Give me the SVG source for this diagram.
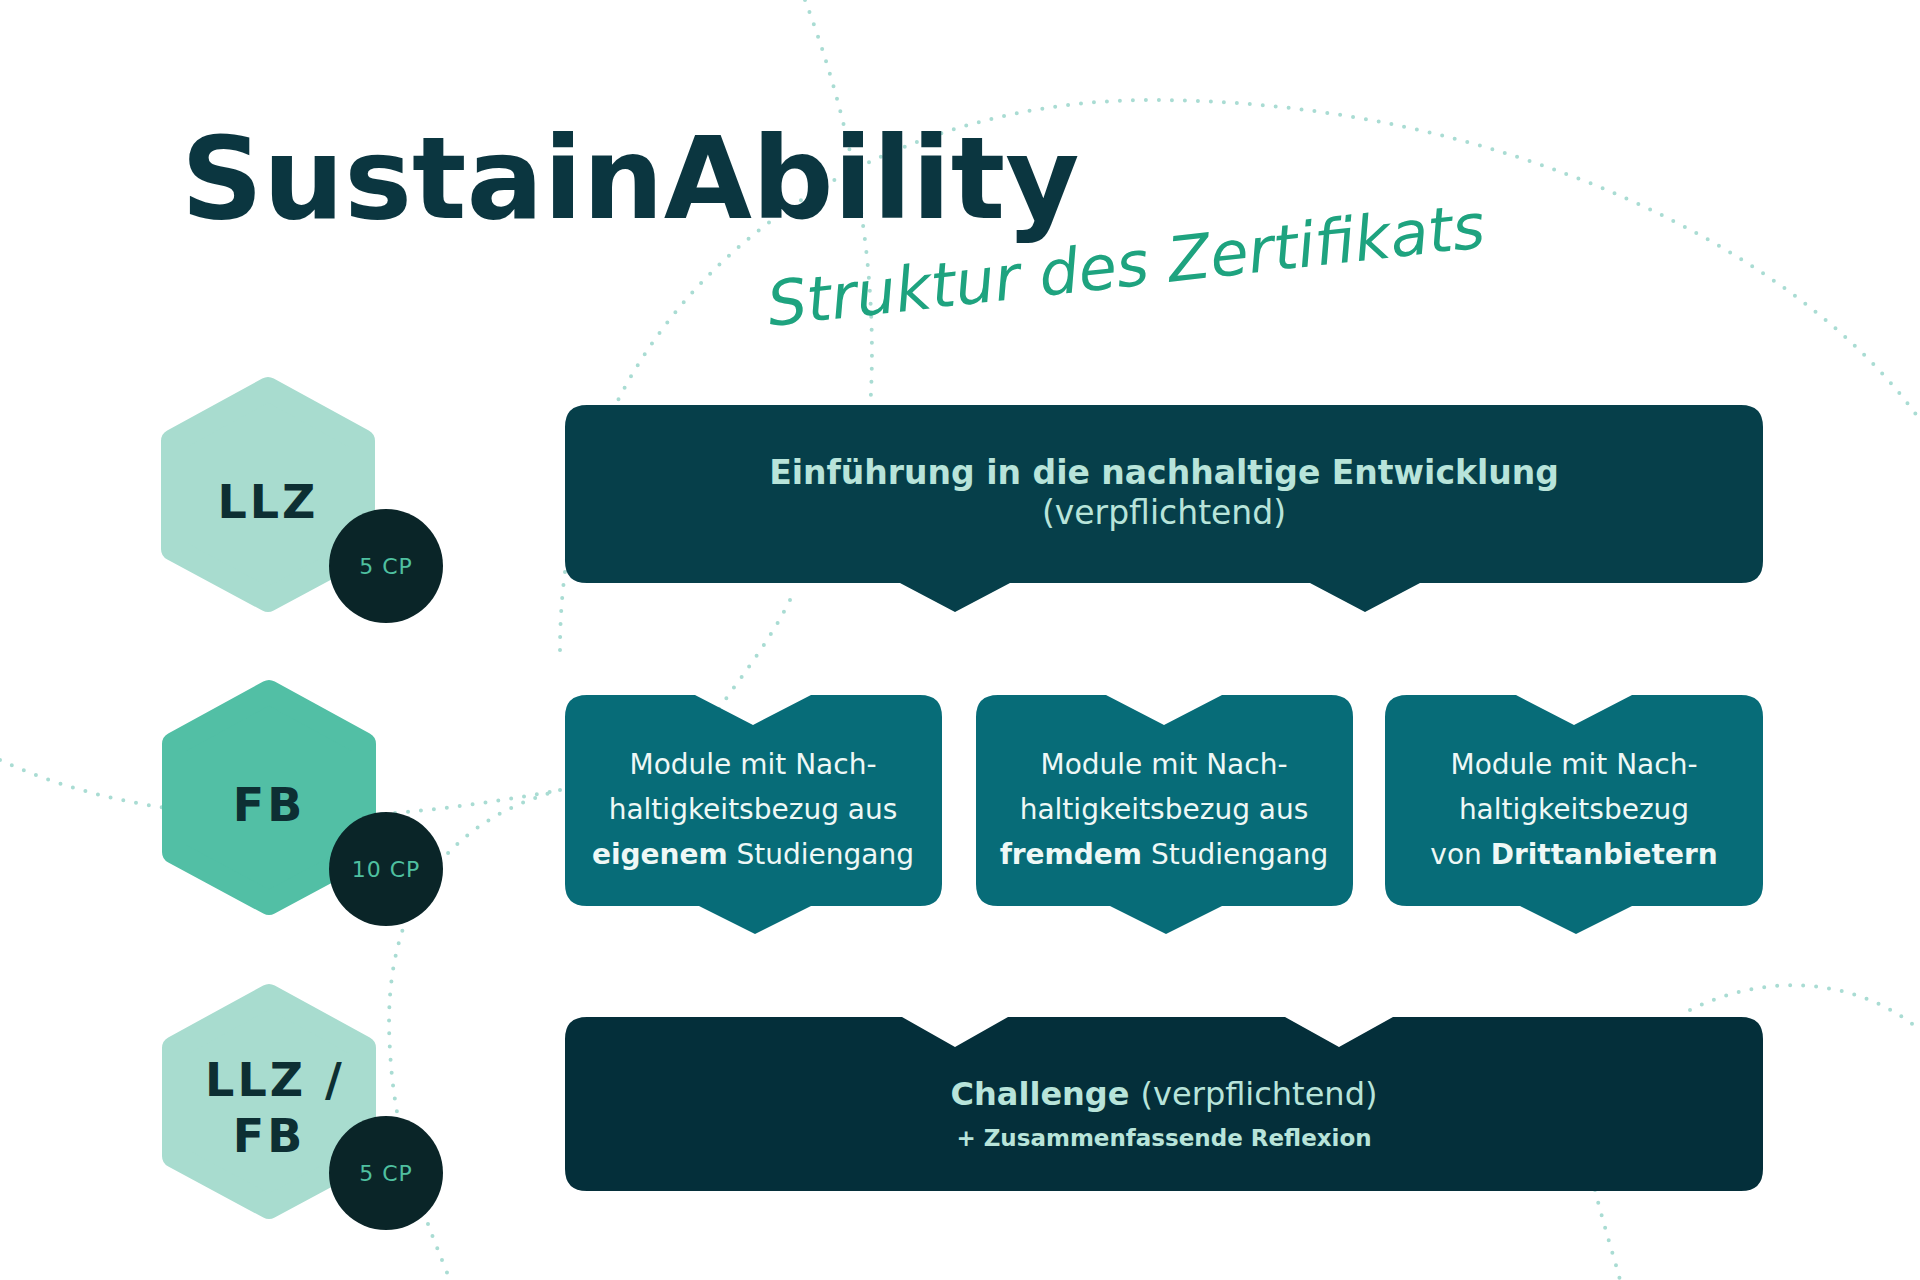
<svg xmlns="http://www.w3.org/2000/svg" width="1920" height="1280" viewBox="0 0 1920 1280">
<style>
.dot{fill:none;stroke:#a9dcd3;stroke-width:4;stroke-linecap:round;stroke-dasharray:0 13}
.hexl{fill:#a8dccf;stroke:#a8dccf;stroke-width:24;stroke-linejoin:round}
.hexm{fill:#52bfa5;stroke:#52bfa5;stroke-width:24;stroke-linejoin:round}
.cp{fill:#0a2528}
.cpt{font-family:"DejaVu Sans",sans-serif;font-size:22px;fill:#4fc0a0;text-anchor:middle;letter-spacing:1px}
.hext{font-family:"DejaVu Sans",sans-serif;font-size:46px;font-weight:bold;fill:#0d2f33;text-anchor:middle;letter-spacing:3px}
.bt{font-family:"DejaVu Sans",sans-serif;text-anchor:middle}
.mt{font-family:"DejaVu Sans",sans-serif;font-size:28px;fill:#eef8f6;text-anchor:middle}
</style>
<rect width="1920" height="1280" fill="#fff"/>
<g id="background">
<path class="dot" d="M560,650 C560,300 850,100 1150,100 C1500,100 1800,250 1920,420"/>
<path class="dot" d="M805,0 C850,120 880,260 870,410"/>
<path class="dot" d="M0,760 C150,830 350,830 560,790"/>
<path class="dot" d="M560,790 C450,820 380,900 390,1050 C395,1150 430,1230 450,1280"/>
<path class="dot" d="M790,600 C760,660 720,700 700,740"/>
<path class="dot" d="M1690,1010 C1770,970 1860,980 1920,1030"/>
<path class="dot" d="M1595,1190 C1605,1230 1615,1260 1620,1280"/>
</g>
<g id="title">
<text x="181" y="218" font-family="'DejaVu Sans',sans-serif" font-weight="bold" font-size="114" fill="#0b3640">SustainAbility</text>
<text transform="translate(770,326) rotate(-6.3)" font-family="'DejaVu Sans',sans-serif" font-style="italic" font-size="62" fill="#1ea37f">Struktur des Zertifikats</text>
</g>
<g id="hex-llz">
<polygon class="hexl" points="268,389 363,441 363,549 268,600 173,549 173,441"/>
<text class="hext" x="268" y="518">LLZ</text>
<circle class="cp" cx="386" cy="566" r="57"/>
<text class="cpt" x="386" y="574">5 CP</text>
</g>
<g id="hex-fb">
<polygon class="hexm" points="269,692 364,744 364,852 269,903 174,852 174,744"/>
<text class="hext" x="269" y="821">FB</text>
<circle class="cp" cx="386" cy="869" r="57"/>
<text class="cpt" x="386" y="877">10 CP</text>
</g>
<g id="hex-llzfb">
<polygon class="hexl" points="269,996 364,1048 364,1156 269,1207 174,1156 174,1048"/>
<text class="hext" x="275" y="1096">LLZ /</text>
<text class="hext" x="269" y="1152">FB</text>
<circle class="cp" cx="386" cy="1173" r="57"/>
<text class="cpt" x="386" y="1181">5 CP</text>
</g>
<g id="box-einfuehrung">
<path fill="#063f4a" d="M587,405 H1741 Q1763,405 1763,427 V561 Q1763,583 1741,583 H1420 L1365,612 L1310,583 H1010 L955,612 L900,583 H587 Q565,583 565,561 V427 Q565,405 587,405 Z"/>
<text class="bt" x="1164" y="484" font-size="33" font-weight="bold" fill="#b8e4da">Einführung in die nachhaltige Entwicklung</text>
<text class="bt" x="1164" y="524" font-size="33" fill="#b8e4da">(verpflichtend)</text>
</g>
<g id="box-eigen">
<path fill="#076c78" d="M587,695 H695 L753,725 L811,695 H920 Q942,695 942,717 V884 Q942,906 920,906 H811 L755,934 L699,906 H587 Q565,906 565,884 V717 Q565,695 587,695 Z"/>
<text class="mt" x="753" y="774">Module mit Nach-</text>
<text class="mt" x="753" y="819">haltigkeitsbezug aus</text>
<text class="mt" x="753" y="864"><tspan font-weight="bold">eigenem</tspan> Studiengang</text>
</g>
<g id="box-fremd">
<path fill="#076c78" d="M998,695 H1106 L1164,725 L1222,695 H1331 Q1353,695 1353,717 V884 Q1353,906 1331,906 H1222 L1166,934 L1110,906 H998 Q976,906 976,884 V717 Q976,695 998,695 Z"/>
<text class="mt" x="1164" y="774">Module mit Nach-</text>
<text class="mt" x="1164" y="819">haltigkeitsbezug aus</text>
<text class="mt" x="1164" y="864"><tspan font-weight="bold">fremdem</tspan> Studiengang</text>
</g>
<g id="box-dritt">
<path fill="#076c78" d="M1407,695 H1516 L1574,725 L1632,695 H1741 Q1763,695 1763,717 V884 Q1763,906 1741,906 H1632 L1576,934 L1520,906 H1407 Q1385,906 1385,884 V717 Q1385,695 1407,695 Z"/>
<text class="mt" x="1574" y="774">Module mit Nach-</text>
<text class="mt" x="1574" y="819">haltigkeitsbezug</text>
<text class="mt" x="1574" y="864">von <tspan font-weight="bold">Drittanbietern</tspan></text>
</g>
<g id="box-challenge">
<path fill="#042f3a" d="M587,1017 H902 L955,1047 L1008,1017 H1285 L1339,1047 L1393,1017 H1741 Q1763,1017 1763,1039 V1169 Q1763,1191 1741,1191 H587 Q565,1191 565,1169 V1039 Q565,1017 587,1017 Z"/>
<text class="bt" x="1164" y="1105" font-size="32" font-weight="bold" fill="#b8e4da">Challenge <tspan font-weight="normal">(verpflichtend)</tspan></text>
<text class="bt" x="1164" y="1146" font-size="23" font-weight="bold" fill="#b8e4da">+ Zusammenfassende Reflexion</text>
</g>
<g id="connectors"></g>
</svg>
